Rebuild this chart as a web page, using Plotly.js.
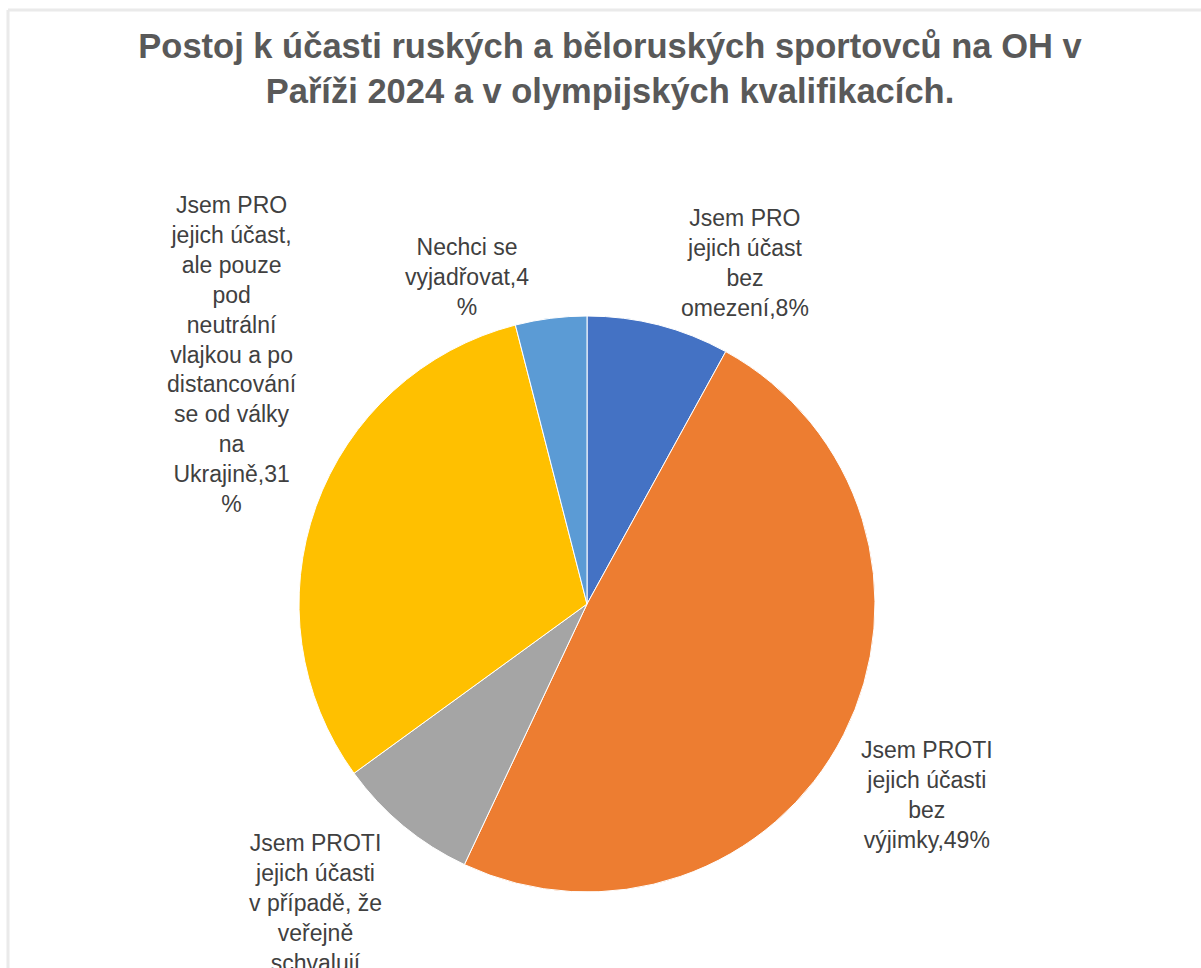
<!DOCTYPE html>
<html>
<head>
<meta charset="utf-8">
<script src="https://cdn.plot.ly/plotly-3.0.1.min.js"></script>
<style>html,body{margin:0;padding:0;background:#fff;}#chart{width:1201px;height:968px;}</style>
</head>
<body>
<div id="chart"></div>
<script>
const categories = [
  "Jsem PRO jejich účast bez omezení",
  "Jsem PROTI jejich účasti bez výjimky",
  "Jsem PROTI jejich účasti v případě, že veřejně schvalují válku",
  "Jsem PRO jejich účast, ale pouze pod neutrální vlajkou a po distancování se od války na Ukrajině",
  "Nechci se vyjadřovat"
];
const values = [8, 49, 8, 31, 4];
const labelTexts = [
  "Jsem PRO<br>jejich účast<br>bez<br>omezení,8%",
  "Jsem PROTI<br>jejich účasti<br>bez<br>výjimky,49%",
  "Jsem PROTI<br>jejich účasti<br>v případě, že<br>veřejně<br>schvalují<br>válku,8%",
  "Jsem PRO<br>jejich účast,<br>ale pouze<br>pod<br>neutrální<br>vlajkou a po<br>distancování<br>se od války<br>na<br>Ukrajině,31<br>%",
  "Nechci se<br>vyjadřovat,4<br>%"
];
const colors = ["#4472C4", "#ED7D31", "#A5A5A5", "#FFC000", "#5B9BD5"];

const W = 1201, H = 968;
// label block anchor (top-center) positions in pixels
const labelPos = [[745, 203], [927, 735], [315, 828], [232, 190], [467, 232]];

const cx = 587, cy = 604, r = 288;
const trace = {
  type: "pie",
  labels: categories,
  values: values,
  sort: false,
  direction: "clockwise",
  rotation: 0,
  textinfo: "none",
  hoverinfo: "label+percent",
  marker: {colors: colors, line: {color: "#ffffff", width: 1}},
  domain: {x: [(cx - r) / W, (cx + r) / W], y: [1 - (cy + r) / H, 1 - (cy - r) / H]},
  showlegend: false
};

const annotations = labelTexts.map((t, i) => ({
  text: t,
  x: labelPos[i][0] / W,
  y: 1 - labelPos[i][1] / H,
  xref: "paper", yref: "paper",
  xanchor: "center", yanchor: "top",
  align: "center",
  showarrow: false,
  font: {family: "Liberation Sans, Arial, sans-serif", size: 23, color: "#404040"}
}));

const layout = {
  width: W, height: H,
  margin: {l: 0, r: 0, t: 0, b: 0},
  paper_bgcolor: "#ffffff",
  title: {
    text: "<b>Postoj k účasti ruských a běloruských sportovců na OH v<br>Paříži 2024 a v olympijských kvalifikacích.</b>",
    x: 610 / W, xanchor: "center",
    yref: "container",
    y: 1 - 58 / H, yanchor: "middle",
    font: {family: "Liberation Sans, sans-serif", size: 34.5, color: "#595959"}
  },
  annotations: annotations,
  shapes: [
    {type: "line", xref: "paper", yref: "paper", x0: 8 / W, x1: 8 / W, y0: 0, y1: 1 - 10 / H, line: {color: "#eaeaea", width: 3}},
    {type: "line", xref: "paper", yref: "paper", x0: 8 / W, x1: 1, y0: 1 - 10 / H, y1: 1 - 10 / H, line: {color: "#eaeaea", width: 3}}
  ]
};

Plotly.newPlot("chart", [trace], layout, {displayModeBar: false});
</script>
</body>
</html>
